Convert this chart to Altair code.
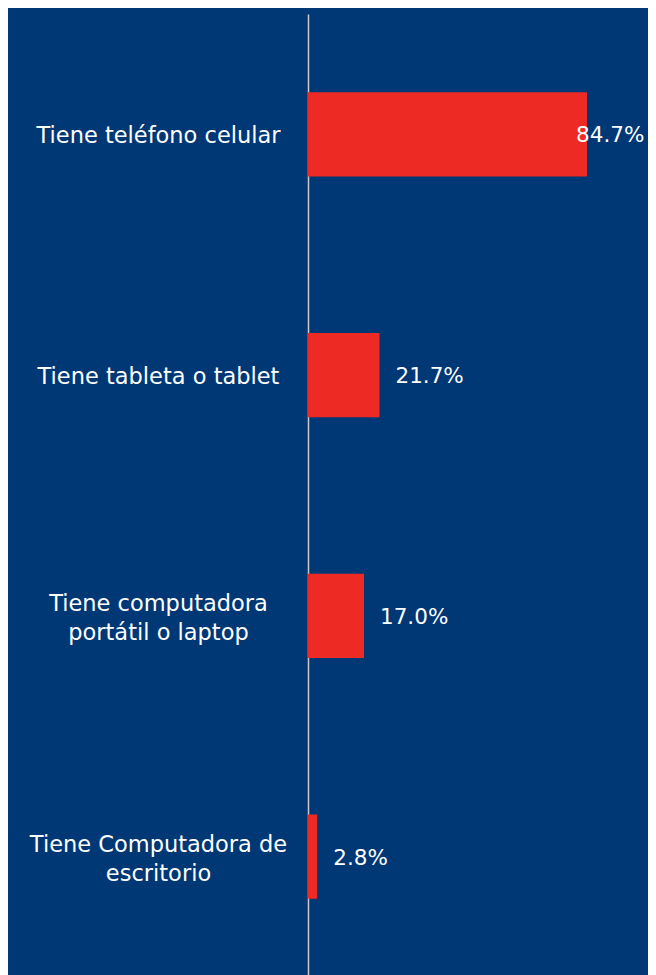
import altair as alt
import pandas as pd

categories = [
    "Tiene teléfono celular",
    "Tiene tableta o tablet",
    "Tiene computadora\nportátil o laptop",
    "Tiene Computadora de\nescritorio",
]
values = [84.7, 21.7, 17.0, 2.8]
value_labels = ["84.7%", "21.7%", "17.0%", "2.8%"]

df = pd.DataFrame({"cat": categories, "value": values, "label": value_labels})

BG = "#003775"
RED = "#EE2A24"
FONT = "DejaVu Sans"
FS = 22.5

y_enc = alt.Y(
    "cat:N",
    sort=categories,
    title=None,
    scale=alt.Scale(paddingInner=0.65, paddingOuter=0.325),
    axis=alt.Axis(
        ticks=False,
        domain=True,
        domainColor="#c9c9c9",
        domainWidth=1.5,
        labelAlign="center",
        labelPadding=150,
        labelColor="white",
        labelFont=FONT,
        labelFontSize=FS,
        labelLineHeight=29,
        labelLimit=400,
        labelOffset={
            "condition": {"test": "indexof(datum.value, '\\n') >= 0", "value": -12},
            "value": 2,
        },
        labelExpr="split(datum.label, '\\n')",
    ),
)

x_scale = alt.Scale(domain=[0, 103.2])

bars = alt.Chart(df).mark_bar(color=RED).encode(
    x=alt.X("value:Q", scale=x_scale, axis=None),
    y=y_enc,
)

text = alt.Chart(df).transform_calculate(
    lx="min(datum.value, 76.5)"
).mark_text(
    align="left", baseline="middle", dx=16, dy=2, color="white", font=FONT,
    fontSize=21.5,
).encode(
    x=alt.X("lx:Q", scale=x_scale, axis=None),
    y=alt.Y("cat:N", sort=categories),
    text="label:N",
)

chart = alt.layer(bars, text).properties(
    width=340,
    height=963,
    padding={"left": 300, "top": 6, "right": 0, "bottom": 0},
    autosize="none",
    background=BG,
).configure_view(stroke=None)

chart.save("out.html", embed_options={"renderer": "svg", "actions": False})
